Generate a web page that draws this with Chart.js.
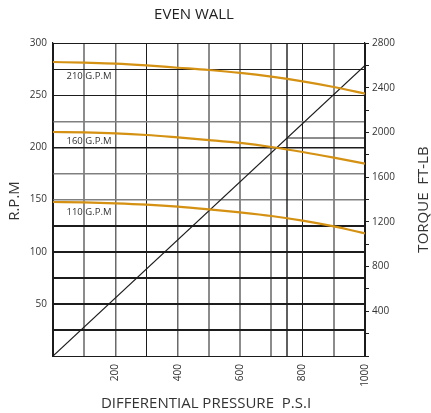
<!DOCTYPE html>
<html>
<head>
<meta charset="utf-8">
<title>EVEN WALL</title>
<script src="https://cdn.jsdelivr.net/npm/chart.js@4.4.1/dist/chart.umd.min.js"></script>
<style>
  html, body { margin: 0; padding: 0; background: #fff; }
  canvas { display: block; }
</style>
</head>
<body>
<canvas id="chart" width="431" height="413"></canvas>
<script>
// Differential pressure (psi) sampled every 100 psi
const pressurePsi = [0, 100, 200, 300, 400, 500, 600, 700, 800, 900, 1000];

// Motor speed (RPM) at each flow rate
const rpm210 = [281.8, 281.1, 280.2, 278.5, 276.3, 274.1, 271.3, 267.7, 263.2, 257.8, 251.4];
const rpm160 = [214.7, 214.3, 213.4, 211.8, 209.5, 207.0, 204.2, 200.3, 195.5, 190.1, 184.3];
const rpm110 = [147.6, 147.2, 146.3, 145.0, 143.1, 140.5, 137.6, 134.2, 129.7, 124.2, 117.5];
const flowNames = ['210 G.P.M', '160 G.P.M', '110 G.P.M'];

// Output torque (ft-lb) against differential pressure
const torquePsi = [0, 1000];
const torqueFtLb = [0, 2600];

// Rated operating point
const ratedPsi = 750;
const ratedTorque = 1950;

// Labelled ticks
const psiTickLabels = [200, 400, 600, 800, 1000];
const rpmTickLabels = [50, 100, 150, 200, 250, 300];
const torqueTickLabels = [400, 800, 1200, 1600, 2000, 2400, 2800];

const FONT = "'Open Sans', 'DejaVu Sans', sans-serif";
const CURVE = 'rgb(212,145,18)';
const INK = '#1c1c1c';
const TEXT = '#333333';

const toPoints = (xs, ys) => xs.map((x, i) => ({ x: x, y: ys[i] }));

// grid line looks per tick value
const vGrid = {
  0: [INK, 1], 100: ['#8c8c8c', 2], 200: ['#6a6a6a', 1.5], 300: [INK, 1],
  400: ['#6a6a6a', 1.5], 500: ['#8c8c8c', 2], 600: ['#8c8c8c', 2], 700: ['#8c8c8c', 2],
  800: [INK, 1], 900: ['#8c8c8c', 2], 1000: [INK, 1]
};
const hGrid = {
  0: [INK, 1], 25: [INK, 2], 50: [INK, 2], 75: [INK, 2], 100: [INK, 2], 125: [INK, 2],
  150: ['#808080', 1.5], 175: ['#808080', 1.5], 200: [INK, 1.6], 225: ['#808080', 1.5],
  250: [INK, 1], 275: [INK, 1], 300: [INK, 1]
};
const gridStyle = (table, v, k) => (table[v] || [INK, 1])[k];

// Text that is not handled by the scales: title, axis titles, flow labels
const flowLabelRpm = [268, 205.6, 138];
const textLayer = {
  id: 'textLayer',
  afterDraw(chart) {
    const { ctx, scales } = chart;
    const xs = scales.x, ys = scales.y, area = chart.chartArea;
    ctx.save();
    ctx.textBaseline = 'middle';

    ctx.fillStyle = '#222';
    ctx.textAlign = 'center';
    ctx.font = `15px ${FONT}`;
    ctx.fillText('EVEN WALL', 194, 14.5);

    ctx.fillStyle = TEXT;
    ctx.fillText('DIFFERENTIAL PRESSURE  P.S.I', 206, 404);

    ctx.save();
    ctx.translate(15, (area.top + area.bottom) / 2 + 1.5);
    ctx.rotate(-Math.PI / 2);
    ctx.fillText('R.P.M', 0, 0);
    ctx.restore();

    ctx.save();
    ctx.translate(424, (area.top + area.bottom) / 2);
    ctx.rotate(-Math.PI / 2);
    ctx.fillText('TORQUE  FT-LB', 0, 0);
    ctx.restore();

    ctx.font = `9.5px ${FONT}`;
    ctx.textAlign = 'left';
    flowNames.forEach((name, i) => {
      ctx.fillText(name, xs.getPixelForValue(0) + 13.5, ys.getPixelForValue(flowLabelRpm[i]));
    });
    ctx.restore();
  }
};

const curve = (data) => ({
  data: toPoints(pressurePsi, data),
  yAxisID: 'y',
  borderColor: CURVE,
  borderWidth: 2.2,
  pointRadius: 0,
  cubicInterpolationMode: 'monotone',
  fill: false
});

new Chart(document.getElementById('chart'), {
  type: 'line',
  data: {
    datasets: [
      curve(rpm210),
      curve(rpm160),
      curve(rpm110),
      {
        data: toPoints(torquePsi, torqueFtLb),
        yAxisID: 'y1',
        borderColor: INK,
        borderWidth: 1.2,
        pointRadius: 0
      },
      {
        data: [{ x: ratedPsi, y: 0 }, { x: ratedPsi, y: 300 }],
        yAxisID: 'y',
        borderColor: INK,
        borderWidth: 1.4,
        pointRadius: 0
      },
      {
        data: [{ x: ratedPsi, y: ratedTorque }, { x: 1000, y: ratedTorque }],
        yAxisID: 'y1',
        borderColor: INK,
        borderWidth: 1.2,
        pointRadius: 0
      }
    ]
  },
  options: {
    responsive: false,
    animation: false,
    devicePixelRatio: 1,
    layout: { padding: { top: 43, left: 0, right: 0, bottom: 0 } },
    plugins: { legend: { display: false }, tooltip: { enabled: false }, title: { display: false } },
    scales: {
      x: {
        type: 'linear',
        min: 0,
        max: 1000,
        afterFit(s) { s.height = 57; },
        ticks: {
          stepSize: 100,
          minRotation: 90,
          maxRotation: 90,
          padding: 8,
          color: TEXT,
          font: { family: FONT, size: 10 },
          callback: (v) => psiTickLabels.includes(v) ? String(v) : ''
        },
        grid: {
          drawTicks: false,
          color: (c) => gridStyle(vGrid, c.tick.value, 0),
          lineWidth: (c) => gridStyle(vGrid, c.tick.value, 1)
        },
        border: { display: true, color: INK, width: 1 }
      },
      y: {
        type: 'linear',
        position: 'left',
        min: 0,
        max: 300,
        afterFit(s) { s.width = 53; },
        ticks: {
          stepSize: 25,
          padding: 6,
          color: TEXT,
          font: { family: FONT, size: 10 },
          callback: (v) => rpmTickLabels.includes(v) ? String(v) : ''
        },
        grid: {
          drawTicks: false,
          color: (c) => gridStyle(hGrid, c.tick.value, 0),
          lineWidth: (c) => gridStyle(hGrid, c.tick.value, 1)
        },
        border: { display: true, color: INK, width: 1.2 }
      },
      y1: {
        type: 'linear',
        position: 'right',
        min: 0,
        max: 2800,
        afterFit(s) { s.width = 66; },
        ticks: {
          stepSize: 200,
          padding: 3,
          color: TEXT,
          font: { family: FONT, size: 10 },
          callback: (v) => torqueTickLabels.includes(v) ? String(v) : ''
        },
        grid: {
          drawOnChartArea: false,
          drawTicks: true,
          tickLength: 4,
          color: INK,
          lineWidth: 1
        },
        border: { display: true, color: INK, width: 1.2 }
      }
    }
  },
  plugins: [textLayer]
});
</script>
</body>
</html>
